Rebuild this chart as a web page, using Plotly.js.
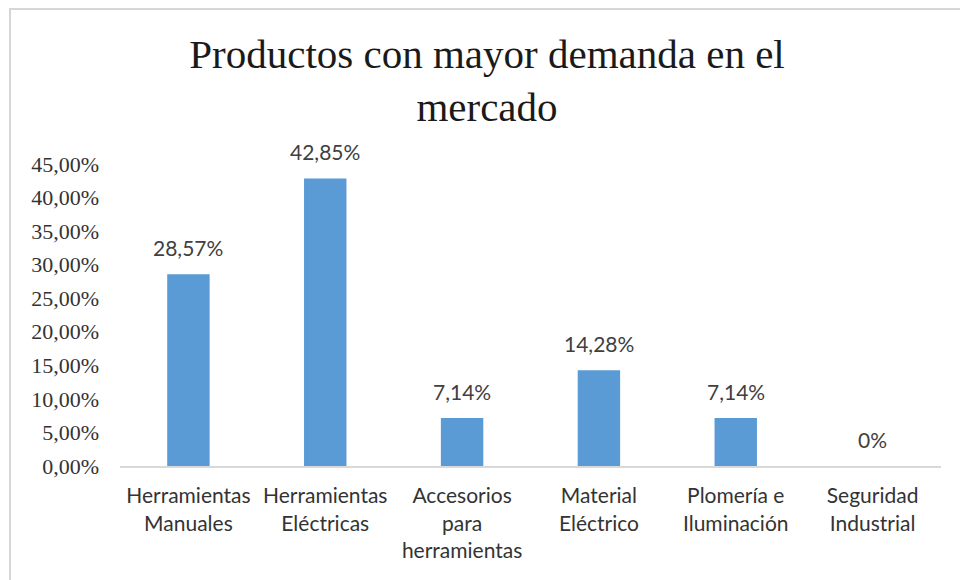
<!DOCTYPE html>
<html>
<head>
<meta charset="utf-8">
<script src="https://cdn.plot.ly/plotly-3.0.1.min.js"></script>
<style>
  html, body { margin: 0; padding: 0; background: #ffffff; }
  #wrap { position: relative; width: 960px; height: 580px; }
  #frame {
    position: absolute; left: 9px; top: 8px; right: 0; bottom: 0;
    border-left: 2px solid #d6d6d6; border-top: 2px solid #d6d6d6;
    pointer-events: none;
  }
  #chart { position: absolute; left: 0; top: 0; width: 960px; height: 580px; }
</style>
</head>
<body>
<div id="wrap">
  <div id="chart"></div>
  <div id="frame"></div>
</div>
<script>
// Categorías de productos (saltos de línea como en las etiquetas del eje)
const categories = [
  "Herramientas<br>Manuales",
  "Herramientas<br>Eléctricas",
  "Accesorios<br>para<br>herramientas",
  "Material<br>Eléctrico",
  "Plomería e<br>Iluminación",
  "Seguridad<br>Industrial"
];

// Porcentaje de demanda por categoría
const demanda = [28.57, 42.85, 7.14, 14.28, 7.14, 0];

// Marcas del eje Y
const yTicks = [0, 5, 10, 15, 20, 25, 30, 35, 40, 45];
const yTickText = yTicks.map(v => v.toFixed(2).replace(".", ",") + "%");

// Etiqueta de cada barra con coma decimal
const etiquetas = demanda.map(v => v === 0 ? "0%" : v.toFixed(2).replace(".", ",") + "%");

const sans = "Lato, 'Open Sans', sans-serif";
const serif = "'Liberation Serif', 'Times New Roman', serif";

const trace = {
  type: "bar",
  x: categories,
  y: demanda,
  marker: { color: "#5b9bd5" },
  hoverinfo: "x+y"
};

// Etiquetas de valor encima de cada barra
const valueLabels = categories.map((c, i) => ({
  x: c,
  y: demanda[i],
  xref: "x",
  yref: "y",
  text: etiquetas[i],
  showarrow: false,
  yanchor: "bottom",
  yshift: 12,
  font: { family: sans, size: 21, color: "#404040" }
}));

const layout = {
  width: 960,
  height: 580,
  paper_bgcolor: "rgba(0,0,0,0)",
  plot_bgcolor: "rgba(0,0,0,0)",
  margin: { l: 120, r: 19, t: 164, b: 114 },
  bargap: 0.69,
  showlegend: false,
  annotations: valueLabels,
  title: {
    text: "Productos con mayor demanda en el<br>mercado",
    font: { family: serif, size: 41, color: "#1a1a1a" },
    x: 487 / 960,
    xanchor: "center",
    xref: "container",
    y: 1 - 68 / 580,
    yanchor: "top",
    yref: "container"
  },
  xaxis: {
    type: "category",
    showline: true,
    linecolor: "#d9d9d9",
    linewidth: 2,
    ticks: "",
    ticklabelstandoff: 10,
    tickfont: { family: sans, size: 21, color: "#333333" },
    tickangle: 0,
    automargin: false
  },
  yaxis: {
    range: [0, 45],
    tickmode: "array",
    tickvals: yTicks,
    ticktext: yTickText,
    showgrid: false,
    zeroline: false,
    showline: false,
    ticks: "",
    ticklabelstandoff: 20,
    tickfont: { family: serif, size: 22, color: "#333333" },
    automargin: false
  }
};

Plotly.newPlot("chart", [trace], layout, { displayModeBar: false, staticPlot: true });
</script>
</body>
</html>
